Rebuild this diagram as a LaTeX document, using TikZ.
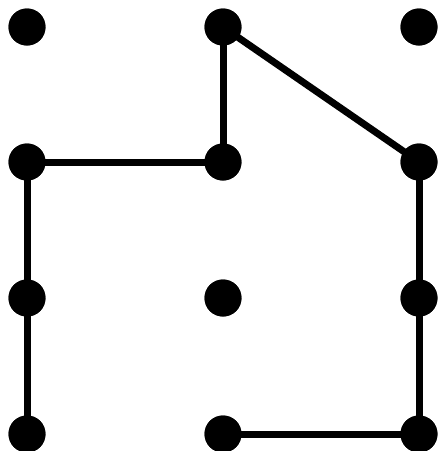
\documentclass[tikz,border=0pt]{standalone}
\begin{document}
\begin{tikzpicture}[x=1pt,y=-1pt,
  dot/.style={circle,fill=black,inner sep=0pt,minimum size=37pt},
  edge/.style={line width=7pt}]
\useasboundingbox (0,0) rectangle (438,451);
\node[dot] (a1) at (27,27) {};
\node[dot] (a2) at (223,27) {};
\node[dot] (a3) at (419,27) {};
\node[dot] (b1) at (27,162) {};
\node[dot] (b2) at (223,162) {};
\node[dot] (b3) at (419,162) {};
\node[dot] (c1) at (27,298) {};
\node[dot] (c2) at (223,298) {};
\node[dot] (c3) at (419,298) {};
\node[dot] (d1) at (27,434) {};
\node[dot] (d2) at (223,434) {};
\node[dot] (d3) at (419,434) {};
\draw[edge] (a2.center) -- (b2.center);
\draw[edge] (a2.center) -- (b3.center);
\draw[edge] (b1.center) -- (b2.center);
\draw[edge] (b1.center) -- (c1.center);
\draw[edge] (c1.center) -- (d1.center);
\draw[edge] (b3.center) -- (c3.center);
\draw[edge] (c3.center) -- (d3.center);
\draw[edge] (d2.center) -- (d3.center);
\foreach \n in {a1,a2,a3,b1,b2,b3,c1,c2,c3,d1,d2,d3}
  \fill (\n) circle (18.5pt);
\end{tikzpicture}
\end{document}
